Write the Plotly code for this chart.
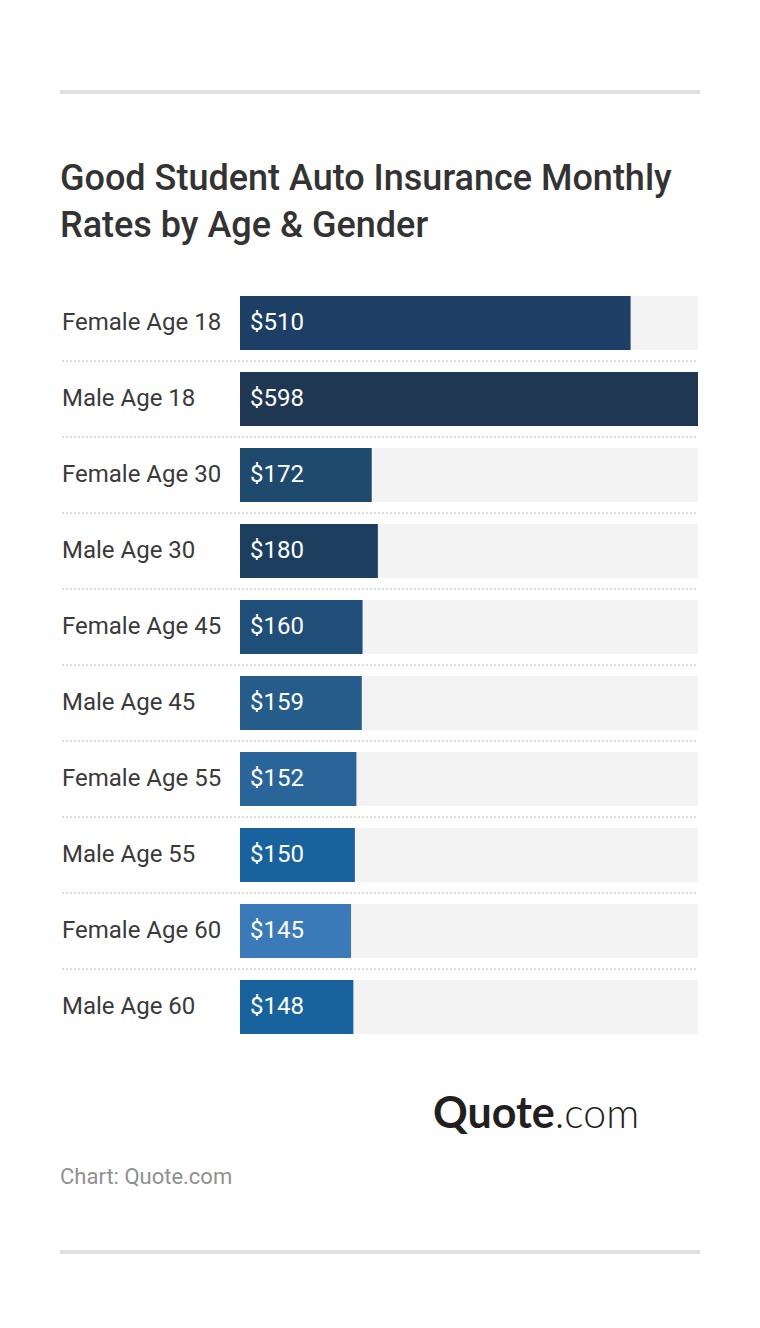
import plotly.graph_objects as go

categories = ["Female Age 18", "Male Age 18", "Female Age 30", "Male Age 30", "Female Age 45",
              "Male Age 45", "Female Age 55", "Male Age 55", "Female Age 60", "Male Age 60"]
values = [510, 598, 172, 180, 160, 159, 152, 150, 145, 148]
colors = ["#1d3f66", "#203754", "#1e4a6e", "#1c3f60", "#1f4e79",
          "#255c8a", "#2a6599", "#18639d", "#3a7ab8", "#18639d"]
title_text = "Good Student Auto Insurance Monthly<br>Rates by Age &amp; Gender"
source_text = "Chart: Quote.com"

# The page has an 8px body margin, so figure coordinates are page coordinates minus 8.
OFF = 8
W, H = 760 - OFF, 1328 - OFF
L, R, T, B = 240 - OFF, 62, 285 - OFF, 283
PW = W - L - R
PH = H - T - B
px = lambda x: (x - OFF - L) / PW
py = lambda y: 1 - (y - OFF - T) / PH

max_value = max(values)
fig = go.Figure()
fig.add_bar(y=categories, x=[max_value] * len(values), orientation="h", marker=dict(color="#f3f3f3", line_width=0),
            hoverinfo="skip", showlegend=False)
fig.add_bar(y=categories, x=values, orientation="h", marker=dict(color=colors, line_width=0),
            showlegend=False)

shapes = []
for y0, y1 in [(90, 94), (1250, 1254)]:
    shapes.append(dict(type="rect", xref="paper", yref="paper", x0=px(60), x1=px(700), y0=py(y0), y1=py(y1),
                       fillcolor="#e0e0e0", line_width=0, layer="above"))
for i in range(len(categories) - 1):
    shapes.append(dict(type="line", xref="paper", yref="y", x0=px(62), x1=px(698), y0=i + 0.5, y1=i + 0.5,
                       line=dict(color="#dedede", width=2, dash="2px,2px"), layer="below"))

annotations = []
for c, v in zip(categories, values):
    annotations.append(dict(xref="paper", yref="y", x=px(62), y=c, text=c, showarrow=False, xanchor="left",
                            yanchor="middle", yshift=1, xshift=-2, font=dict(family="Roboto", size=24, color="#3a3a3a")))
    annotations.append(dict(xref="x", yref="y", x=0, y=c, text=f"${v}", showarrow=False, xanchor="left",
                            xshift=8, yanchor="middle", yshift=1, font=dict(family="Roboto", size=24, color="#ffffff")))
annotations.append(dict(xref="paper", yref="paper", x=px(60), y=py(1176), text=source_text, showarrow=False,
                        xanchor="left", yanchor="middle", xshift=-2,
                        font=dict(family="Roboto", size=22, color="#909090")))
annotations.append(dict(xref="paper", yref="paper", x=px(433), y=py(1111),
                        text='<b>Quote</b><span style="font-size:41px;font-weight:300">.com</span>', showarrow=False,
                        xanchor="left", yanchor="middle", xshift=-2,
                        font=dict(family="Lato", size=43, color="#231f20")))

fig.update_layout(
    width=W, height=H, autosize=False,
    margin=dict(l=L, r=R, t=T, b=B, pad=0),
    paper_bgcolor="#ffffff", plot_bgcolor="#ffffff",
    barmode="overlay", bargap=22 / 76,
    title=dict(text=title_text, xref="container", yref="container", x=52 / W, xanchor="left",
               y=1 - 182 / H, yanchor="top", pad=dict(l=0, t=0, b=0, r=0),
               font=dict(family="Roboto", size=36, weight=500, color="#333333")),
    xaxis=dict(range=[0, max_value], visible=False, fixedrange=True),
    yaxis=dict(autorange="reversed", visible=False, fixedrange=True, type="category"),
    shapes=shapes, annotations=annotations,
)
fig.write_html("out.html", config=dict(displayModeBar=False))
